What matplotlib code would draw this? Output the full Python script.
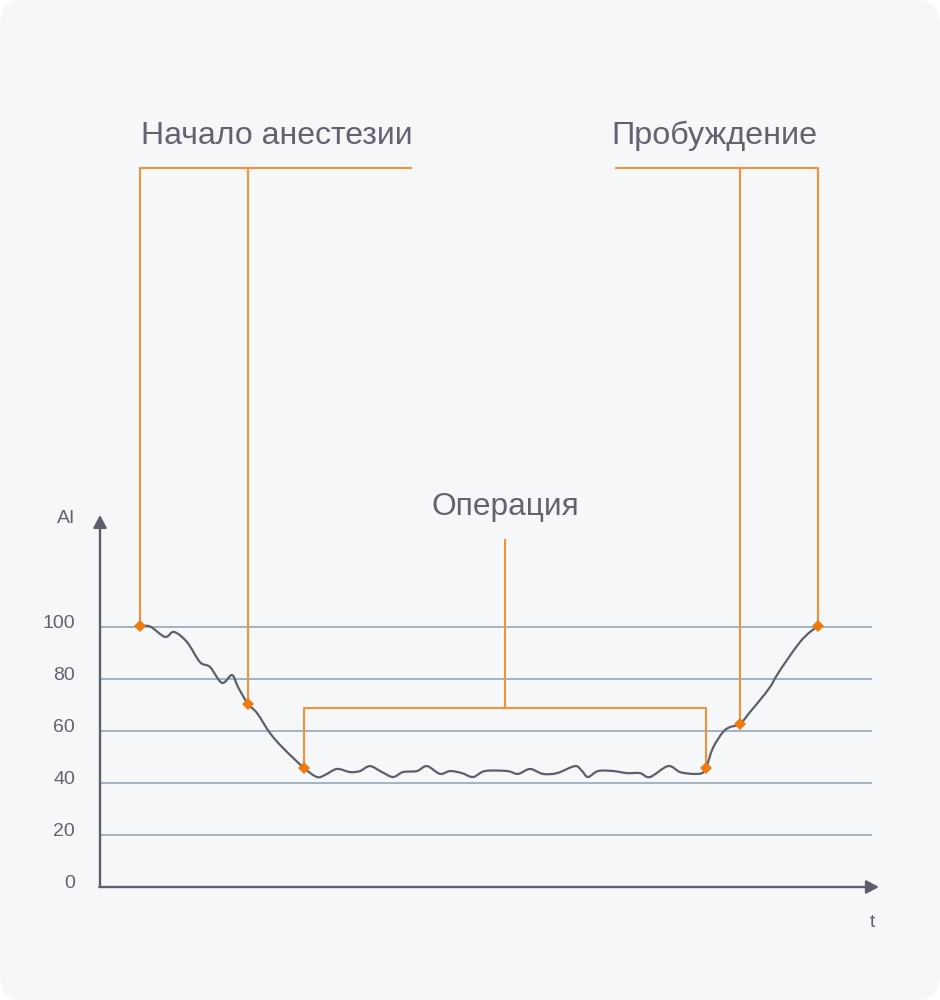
import matplotlib
matplotlib.use("Agg")
import matplotlib.pyplot as plt
import numpy as np
from matplotlib.path import Path
from matplotlib.patches import PathPatch, FancyBboxPatch

# ---------------- data ----------------
curve_t = [5.18, 6.48, 8.42, 9.59, 11.27, 12.95, 14.25, 15.80, 17.10, 17.88,
           19.17, 20.34, 22.02, 23.70, 26.42, 28.11, 29.15, 30.70, 32.38, 33.68,
           34.97, 36.53, 37.95, 39.25, 41.06, 42.36, 44.04, 45.34, 46.89, 48.32,
           49.87, 52.72, 54.15, 55.70, 57.38, 59.20, 61.53, 62.44, 63.21, 64.51,
           66.45, 68.26, 69.95, 71.24, 73.58, 75.13, 76.81, 77.98, 78.50, 79.40,
           80.70, 81.61, 82.90, 84.20, 85.49, 86.79, 87.69, 88.99, 90.67, 91.97,
           93.01]
curve_ai = [100.2, 100.2, 96.2, 98.1, 94.2, 86.5, 84.6, 78.5, 81.5, 76.9,
            70.4, 66.9, 59.2, 53.5, 45.8, 42.3, 43.1, 45.4, 44.2, 44.6,
            46.5, 44.2, 42.3, 44.2, 44.6, 46.5, 43.5, 44.6, 43.8, 42.3,
            44.6, 44.6, 43.5, 45.4, 43.5, 43.8, 46.5, 44.6, 42.3, 44.6,
            44.6, 43.8, 43.8, 42.3, 46.5, 44.2, 43.5, 43.8, 45.8, 53.5,
            59.6, 61.5, 62.7, 67.3, 71.9, 76.9, 81.5, 87.3, 94.2, 98.1,
            100.2]

event_t = [5.18, 19.17, 26.42, 78.50, 82.90, 93.01]
event_ai = [100.2, 70.4, 45.8, 45.8, 62.7, 100.2]

grid_levels = [20, 40, 60, 80, 100]
tick_labels = ["0", "20", "40", "60", "80", "100"]
tick_values = [0, 20, 40, 60, 80, 100]

label_anesthesia = "Начало анестезии"
label_wake = "Пробуждение"
label_operation = "Операция"
y_label = "AI"
x_label = "t"

# ---------------- style ----------------
CARD = "#f6f7f9"
AXIS = "#5f5f6b"
GRID = "#9dadbe"
TEXT = "#62636f"
ORANGE = "#f0923b"
MARK = "#f27a0c"
FONT = ["Liberation Sans", "DejaVu Sans"]

W, H, DPI = 940, 1000, 100
fig = plt.figure(figsize=(W / DPI, H / DPI), dpi=DPI, facecolor="white")

card = FancyBboxPatch((0, 0), 1, 1, boxstyle="round,pad=0,rounding_size=0.026",
                      transform=fig.transFigure, facecolor=CARD, edgecolor="none",
                      mutation_aspect=W / H, zorder=-10)
fig.patches.append(card)

ax = fig.add_axes([0, 0, 1, 1])
ax.set_facecolor("none")
ax.axis("off")
ax.set_zorder(5)
# scales: t 0..100 -> 772 px starting 100 px from left; AI 2.6 px per unit, zero 113 px from bottom
sx, sy = 7.72, 2.6
ax.set_xlim(-100 / sx, (W - 100) / sx)
ax.set_ylim(-113 / sy, (H - 113) / sy)

# grid lines
ax.hlines(grid_levels, 0, 100, colors=GRID, linewidth=1.3, zorder=1)

# axes arrows
arrow_kw = dict(arrowstyle="-|>,head_length=0.75,head_width=0.4", lw=1.7,
                color=AXIS, shrinkA=0, shrinkB=0, mutation_scale=10)
ax.annotate("", xy=(0, 143.1), xytext=(0, 0), arrowprops=arrow_kw, zorder=3)
ax.annotate("", xy=(100.9, 0), xytext=(-0.1, 0), arrowprops=arrow_kw, zorder=3)

# tick labels
for v, lab in zip(tick_values, tick_labels):
    ax.text(-3.24, v - 0.3, lab, ha="right", va="baseline", fontsize=14,
            color=TEXT, family=FONT)
ax.text(-3.24, 140, y_label, ha="right", va="baseline", fontsize=14,
        color=TEXT, family=FONT)
ax.text(100.06, -15.4, x_label, ha="center", va="baseline", fontsize=14,
        color=TEXT, family=FONT)

# smooth curve (Catmull-Rom -> cubic Bezier through the read points)
P = np.column_stack([curve_t, curve_ai])
verts = [tuple(P[0])]
codes = [Path.MOVETO]
n = len(P)
for i in range(n - 1):
    p0 = P[i - 1] if i > 0 else P[i]
    p1, p2 = P[i], P[i + 1]
    p3 = P[i + 2] if i + 2 < n else P[i + 1]
    c1 = p1 + (p2 - p0) / 6.0
    c2 = p2 - (p3 - p1) / 6.0
    verts += [tuple(c1), tuple(c2), tuple(p2)]
    codes += [Path.CURVE4] * 3
ax.add_patch(PathPatch(Path(verts, codes), facecolor="none", edgecolor=AXIS,
                       lw=1.6, capstyle="round", joinstyle="round", zorder=4))

# brackets
top = 276.5
lw_o = 1.5
# anesthesia
ax.plot([event_t[0], event_t[0], 40.28], [event_ai[0], top, top], color=ORANGE, lw=lw_o, zorder=2)
ax.plot([event_t[1], event_t[1]], [event_ai[1], top], color=ORANGE, lw=lw_o, zorder=2)
# wake
ax.plot([66.84, event_t[5], event_t[5]], [top, top, event_ai[5]], color=ORANGE, lw=lw_o, zorder=2)
ax.plot([event_t[4], event_t[4]], [event_ai[4], top], color=ORANGE, lw=lw_o, zorder=2)
# operation
op_y = 68.8
ax.plot([event_t[2], event_t[2], event_t[3], event_t[3]],
        [event_ai[2], op_y, op_y, event_ai[3]], color=ORANGE, lw=lw_o, zorder=2)
mid = (event_t[2] + event_t[3]) / 2
ax.plot([mid, mid], [op_y, 133.5], color=ORANGE, lw=lw_o, zorder=2)

# event markers
ax.plot(event_t, event_ai, linestyle="none", marker="D", markersize=5.8,
        color=MARK, markeredgewidth=0, zorder=5)

# labels
ax.text(5.31, 285.8, label_anesthesia, ha="left", va="baseline", fontsize=23,
        color=TEXT, family=FONT)
ax.text(92.88, 285.8, label_wake, ha="right", va="baseline", fontsize=23.3,
        color=TEXT, family=FONT)
ax.text(52.46, 143.1, label_operation, ha="center", va="baseline", fontsize=22.8,
        color=TEXT, family=FONT)

fig.savefig("out.png", dpi=DPI, facecolor="white")
